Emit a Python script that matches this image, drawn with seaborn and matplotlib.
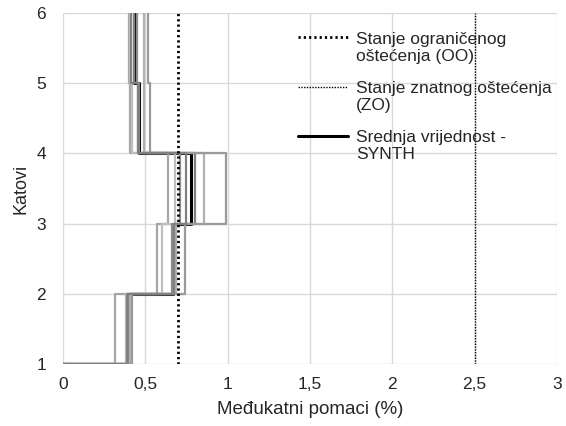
import numpy as np
import pandas as pd
import seaborn as sns
import matplotlib
matplotlib.use('Agg')
from matplotlib import pyplot as plt
from matplotlib.legend_handler import HandlerLine2D

# katovi (granice) i medjukatni pomaci po zapisu (%), kat 1-2 ... 5-6
floors = [1, 2, 3, 4, 5, 6]
records = {
    'r1': [0.315, 0.57, 0.64, 0.41, 0.40],
    'r2': [0.383, 0.60, 0.68, 0.42, 0.41],
    'r3': [0.393, 0.66, 0.71, 0.455, 0.45],
    'r4': [0.400, 0.675, 0.80, 0.465, 0.43],
    'r5': [0.405, 0.69, 0.86, 0.49, 0.49],
    'r6': [0.418, 0.74, 0.99, 0.53, 0.52],
    'r7': [0.390, 0.675, 0.75, 0.455, 0.415],
}
record_colors = ['#a6a6a6', '#bfbfbf', '#8c8c8c', '#7f7f7f', '#b0b0b0', '#9a9a9a', '#808080']
mean_synth = [0.39, 0.67, 0.78, 0.46, 0.435]
limit_oo = 0.7
limit_zo = 2.5
x_ticks = [0, 0.5, 1, 1.5, 2, 2.5, 3]
x_tick_labels = ['0', '0,5', '1', '1,5', '2', '2,5', '3']


def step_frame(vals):
    xs = [0]
    ys = [floors[0]]
    for i, v in enumerate(vals):
        xs += [v, v]
        ys += [floors[i], floors[i + 1]]
    return pd.DataFrame({'x': xs, 'y': ys})


# legend handle on the first text line (like excel)
class FirstLineHandler(HandlerLine2D):
    def create_artists(self, legend, orig_handle, xdescent, ydescent, width, height, fontsize, trans):
        arts = super().create_artists(legend, orig_handle, xdescent, ydescent, width, height, fontsize, trans)
        for a in arts:
            a.set_ydata(np.asarray(a.get_ydata(), dtype=float) + 0.6 * fontsize)
        return arts


sns.set_style('whitegrid')
plt.rcParams['font.family'] = ['Liberation Sans', 'DejaVu Sans']

fig = plt.figure(figsize=(5.66, 4.26), dpi=100)
ax = fig.add_axes([0.111, 0.1455, 0.873, 0.824])

sns.lineplot(data=step_frame(mean_synth), x='x', y='y', sort=False, estimator=None,
             color='black', lw=2.2, ax=ax, label='Srednja vrijednost -\nSYNTH', zorder=2)
for (name, vals), c in zip(records.items(), record_colors):
    sns.lineplot(data=step_frame(vals), x='x', y='y', sort=False, estimator=None,
                 color=c, lw=1.6, ax=ax, label='_nolegend_', zorder=3)

l_oo = ax.axvline(limit_oo, color='black', ls=(0, (0.8, 1.1)), lw=2, zorder=4,
                  label='Stanje ograničenog\noštećenja (OO)')
l_zo = ax.axvline(limit_zo, color='black', ls=(0, (1, 1)), lw=1, zorder=4,
                  label='Stanje znatnog oštećenja\n(ZO)')

ax.set_xlim(0, 3)
ax.set_ylim(1, 6)
ax.set_xticks(x_ticks)
ax.set_xticklabels(x_tick_labels)
ax.set_yticks(floors)
ax.tick_params(labelsize=12.5, length=0)
ax.tick_params(axis='y', pad=12)
ax.tick_params(axis='x', pad=9)
ax.grid(color='#d9d9d9', lw=1)
for s in ax.spines.values():
    s.set_visible(False)
ax.set_xlabel('Međukatni pomaci (%)', fontsize=13.5, labelpad=7)
ax.set_ylabel('Katovi', fontsize=13, labelpad=5)

handles, labels = ax.get_legend_handles_labels()
order = [labels.index(l) for l in ['Stanje ograničenog\noštećenja (OO)',
                                   'Stanje znatnog oštećenja\n(ZO)',
                                   'Srednja vrijednost -\nSYNTH']]
leg = ax.legend([handles[i] for i in order], [labels[i] for i in order],
                loc='upper left', bbox_to_anchor=(0.476, 0.946), frameon=False, fontsize=12.5,
                handlelength=2.9, handletextpad=0.45, labelspacing=1.0, borderpad=0,
                borderaxespad=0, handler_map={matplotlib.lines.Line2D: FirstLineHandler()})
for t in leg.get_texts():
    t.set_linespacing(1.15)

fig.savefig('out.png', dpi=100)
